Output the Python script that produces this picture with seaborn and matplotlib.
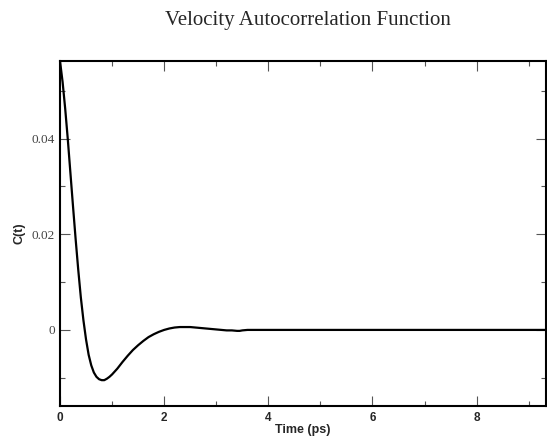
import matplotlib
matplotlib.use("Agg")
import matplotlib.pyplot as plt
import seaborn as sns
import pandas as pd
from matplotlib.ticker import MultipleLocator, FixedLocator

time_ps = [0.00, 0.05, 0.10, 0.15, 0.20, 0.25, 0.30, 0.35, 0.40, 0.45,
           0.50, 0.55, 0.60, 0.65, 0.70, 0.75, 0.80, 0.85, 0.90, 0.95,
           1.00, 1.10, 1.20, 1.30, 1.40, 1.50, 1.60, 1.70, 1.80, 1.90,
           2.00, 2.10, 2.20, 2.30, 2.40, 2.50, 2.60, 2.70, 2.80, 2.90,
           3.00, 3.10, 3.20, 3.30, 3.40, 3.45, 3.50, 3.60, 4.00, 5.00,
           6.00, 7.00, 8.00, 9.00, 9.40]
vacf = [0.0562, 0.0518, 0.0462, 0.0398, 0.0328, 0.0258, 0.0190, 0.0126,
        0.0068, 0.0020, -0.0020, -0.0052, -0.0074, -0.0089, -0.0098,
        -0.0103, -0.0105, -0.0105, -0.0102, -0.0098, -0.0093, -0.0081,
        -0.0067, -0.0054, -0.0042, -0.0032, -0.0023, -0.0015, -0.0009,
        -0.0004, 0.0000, 0.0003, 0.0005, 0.0006, 0.0006, 0.0006, 0.0005,
        0.0004, 0.0003, 0.0002, 0.0001, 0.0000, -0.0001, -0.0001, -0.0002,
        -0.0002, -0.0001, 0.0000, 0.0000, 0.0000, 0.0000, 0.0000, 0.0000,
        0.0000, 0.0000]

df = pd.DataFrame({"t": time_ps, "c": vacf})

sns.set_style("white")
fig = plt.figure(figsize=(5.47, 4.40), dpi=100)
ax = fig.add_axes([60/547, 1-406/440, 1 - 60/547 - 0.002, (406-61)/440])

sns.lineplot(data=df, x="t", y="c", ax=ax, color="black", linewidth=1.6)

ax.set_xlim(0, 9.33)
ax.set_ylim(-0.0159, 0.0562)

ax.xaxis.set_major_locator(MultipleLocator(2))
ax.xaxis.set_minor_locator(MultipleLocator(1))
ax.yaxis.set_major_locator(FixedLocator([0, 0.02, 0.04]))
ax.yaxis.set_minor_locator(FixedLocator([-0.01, 0.01, 0.03, 0.05]))
ax.set_yticklabels(["0", "0.02", "0.04"], fontfamily="Liberation Serif",
                   fontsize=9.5, color="#444444")
ax.set_xticks([0, 2, 4, 6, 8])
ax.set_xticklabels(["0", "2", "4", "6", "8"], fontfamily="Liberation Sans",
                   fontweight="bold", fontsize=8.5)

ax.tick_params(which="both", direction="in", top=True, right=True,
               bottom=True, left=True, color="#555555", width=0.8)
ax.tick_params(which="major", length=7.2)
ax.tick_params(which="minor", length=3.6)
ax.tick_params(axis="x", pad=4)
ax.tick_params(axis="y", pad=3.6)

for s in ax.spines.values():
    s.set_color("black")
    s.set_linewidth(1.5)

ax.set_xlabel("Time (ps)", fontfamily="Liberation Sans", fontweight="bold",
              fontsize=9, labelpad=0)
ax.set_ylabel("C(t)", fontfamily="Liberation Sans", fontweight="bold",
              fontsize=9, labelpad=4.5)

fig.text(308/547, 1-21/440, "Velocity Autocorrelation Function",
         fontfamily="Liberation Serif", fontsize=15, ha="center", va="center")

fig.savefig("out.png", dpi=100)
